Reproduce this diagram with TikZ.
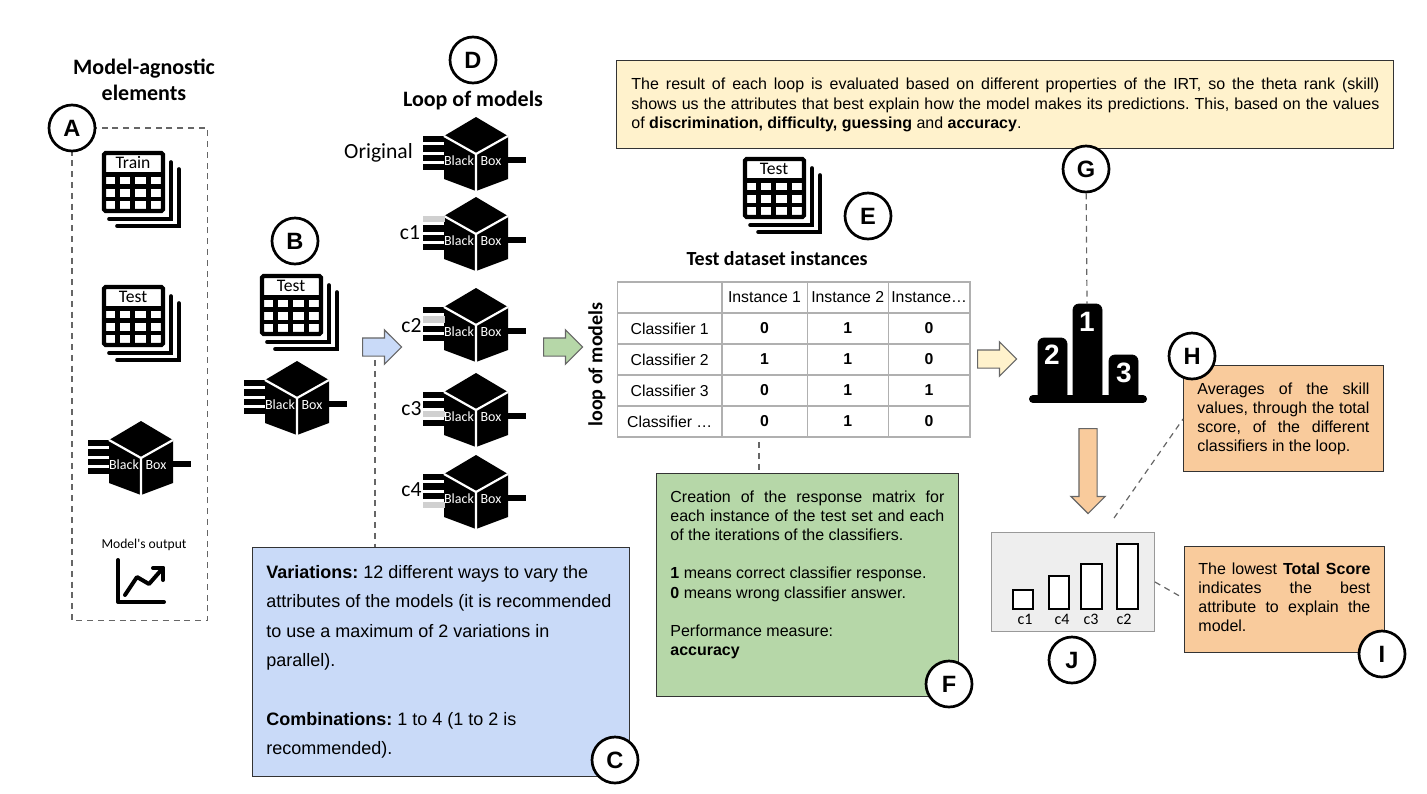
\documentclass[tikz,border=0pt]{standalone}
\usepackage{fontspec}
\setmainfont{Liberation Sans}
\newfontfamily\calibrifont{Carlito}
\usetikzlibrary{arrows.meta, positioning, shapes.arrows, matrix, calc}

\definecolor{varblue}{HTML}{C9DAF8}
\definecolor{matgreen}{HTML}{B6D7A8}
\definecolor{noteyellow}{HTML}{FFF2CC}
\definecolor{noteorange}{HTML}{F9CB9C}
\definecolor{panelgray}{HTML}{EEEEEE}
\definecolor{stubgray}{HTML}{D0D0D0}
\definecolor{tablegray}{HTML}{B0B0B0}

\frenchspacing

\begin{document}
\begin{tikzpicture}[
    x=0.5pt, y=-0.5pt,
    heading/.style = {font=\calibrifont\bfseries\fontsize{11}{12.7}\selectfont, align=center, inner sep=0},
    icontext/.style = {font=\calibrifont\fontsize{8.8}{10}\selectfont, inner sep=0},
    boxtext/.style = {font=\calibrifont\fontsize{7}{8}\selectfont, text=white, inner sep=0},
    looplabel/.style = {font=\calibrifont\fontsize{10.8}{12}\selectfont, inner sep=0},
    letterdot/.style = {circle, draw, fill=white, line width=1.35pt, minimum size=23pt, inner sep=0, font=\bfseries\fontsize{11.8}{12}\selectfont},
    infobox/.style = {rectangle, draw=black!80, line width=.7pt, anchor=north west, inner sep=0},
    infotext/.style = {anchor=north west, inner sep=0, align=justify, font=\fontsize{8}{9.6}\selectfont},
    blockarrow/.style = {single arrow, draw=black!60, line width=.6pt, inner sep=0, text height=8.5pt, text depth=0pt, anchor=tail, minimum height=19.5pt, single arrow head extend=4pt},
    leader/.style = {draw=black!60, line width=.6pt, dash pattern=on 3pt off 2.4pt},
    scorebar/.style = {draw, fill=white, line width=1.4pt},
    podiumstep/.style = {fill=black, rounded corners=3pt},
    podiumnum/.style = {text=white, inner sep=0, font=\bfseries\fontsize{14}{14}\selectfont},
    stub/.style = {line width=3.4pt},
    pics/datatable/.style = {code={
        \draw [line width=1.8pt, line cap=round] (7,68) -- (69,68) -- (69,11);
        \draw [line width=1.8pt, line cap=round] (15,75) -- (77,75) -- (77,18);
        \draw [line width=2.1pt, fill=white, rounded corners=.8pt] (2,2) rectangle (61,60);
        \draw [line width=2.4pt] (2,23.4) -- (61,23.4);
        \draw [line width=2.2pt] (2,35.3) -- (61,35.3) (2,47.8) -- (61,47.8);
        \draw [line width=2.5pt] (15.8,23) -- (15.8,60) (30.9,23) -- (30.9,60) (46.3,23) -- (46.3,60);
        \node [icontext] (-label) at (31,12) {#1};
    }},
    pics/blackbox/.style = {code={
        \draw [stub] (-53,-15) -- (-31,-15) (-53,-5.5) -- (-31,-5.5) (-53,4) -- (-31,4) (-53,13) -- (-31,13);
        \draw [stub] (31,6) -- (50,6);
        \fill (0,-37) -- (32,-18) -- (32,25) -- (0,37) -- (-32,25) -- (-32,-18) -- cycle;
        \draw [white, line width=1.1pt] (-32,-18) -- (0,0) -- (32,-18) (0,0) -- (0,37);
        \node [boxtext] (-black) at (-17,7) {Black};
        \node [boxtext] (-box) at (15,7) {Box};
    }},
    pics/dropstub/.style = {code={
        \draw [stub, stubgray] (-53,#1) -- (-31,#1);
    }}
]
    \useasboundingbox (0,0) rectangle (1427,793);

    \draw [leader] (72,128) rectangle (207.5,620.5);
    \node [heading] (agnostic) at (144,80) {Model-agnostic\\elements};
    \pic (train) at (102,151) {datatable=Train};
    \pic (testa) at (102,285) {datatable=Test};
    \pic (boxa) at (141,458) {blackbox};
    \node [font=\calibrifont\fontsize{6.8}{8}\selectfont, inner sep=0] (output) at (144,545) {Model's output};
    \draw [line width=2pt, line cap=round, line join=round] (118,560) -- (118,602) -- (164,602);
    \draw [line width=2pt, line cap=round, line join=round] (125,595) -- (137,577) -- (149,584) -- (163,568);
    \draw [line width=2pt, line cap=round, line join=round] (153,568) -- (163,568) -- (163,580);
    \node [letterdot] (a) at (72,128) {A};

    \node [letterdot] (b) at (295,241) {B};
    \pic (testb) at (260,274) {datatable=Test};
    \pic (boxb) at (297,398) {blackbox};

    \node [letterdot] (d) at (473,60) {D};
    \node [heading] (loop) at (473,101) {Loop of models};
    \node [looplabel] (original) at (378.5,153) {Original};
    \pic (box0) at (476,154) {blackbox};
    \node [looplabel] (c1) at (410,233) {c1};
    \pic (box1) at (476,234) {blackbox};
    \pic at (476,234) {dropstub=-15};
    \node [looplabel] (c2) at (411.5,326) {c2};
    \pic (box2) at (476,325) {blackbox};
    \pic at (476,325) {dropstub=-5.5};
    \node [looplabel] (c3) at (411.5,409) {c3};
    \pic (box3) at (476,410) {blackbox};
    \pic at (476,410) {dropstub=4};
    \node [looplabel] (c4) at (411.5,490) {c4};
    \pic (box4) at (476,492) {blackbox};
    \pic at (476,492) {dropstub=13};

    \node [blockarrow, fill=varblue] (varyarrow) at (362,347) {};
    \node [blockarrow, fill=matgreen] (looparrow) at (543,347) {};
    \node [blockarrow, fill=noteyellow] (rankarrow) at (977,359) {};
    \node [blockarrow, fill=noteorange, rotate=-90, minimum height=42.5pt] (meanarrow) at (1088,428) {};

    \node [infobox, fill=varblue, minimum width=188.5pt, minimum height=114.5pt] (cbox) at (252,547) {};
    \node [infotext, align=left, font=\fontsize{9}{14.7}\selectfont] (ctext) at ($(cbox.north west)+(14,18)$) {\textbf{Variations:} 12 different ways to vary the\\attributes of the models (it is recommended\\to use a maximum of 2 variations in\\parallel).\\[14.7pt]\textbf{Combinations:} 1 to 4 (1 to 2 is\\recommended).};
    \node [letterdot] (c) at (615,760) {C};
    \coordinate (cstart) at (375,360);
    \draw [leader] (cstart) -- (cstart |- cbox.north);

    \pic (teste) at (743,157) {datatable=Test};
    \node [letterdot] (e) at (868,216) {E};
    \node [heading, font=\calibrifont\bfseries\fontsize{10}{13}\selectfont] (instances) at (777,259) {Test dataset instances};
    \node [heading, rotate=90, font=\calibrifont\bfseries\fontsize{10}{11}\selectfont] (rowtitle) at (597,364.5) {loop of models};

    \matrix [matrix of nodes, nodes in empty cells, anchor=north west, inner sep=0,
        nodes={draw=tablegray, line width=.6pt, anchor=center, minimum height=15.5pt, inner sep=0, font=\fontsize{7.9}{9}\selectfont},
        column sep=-.6pt, row sep=-.6pt,
        column 1/.style={nodes={minimum width=52.2pt}},
        column 2/.style={nodes={minimum width=42.6pt}},
        column 3/.style={nodes={minimum width=40.6pt}},
        column 4/.style={nodes={minimum width=40.8pt}}] (results) at (616.5,281) {
        & Instance 1 & Instance 2 & Instance… \\
        Classifier 1 & \textbf{0} & \textbf{1} & \textbf{0} \\
        Classifier 2 & \textbf{1} & \textbf{1} & \textbf{0} \\
        Classifier 3 & \textbf{0} & \textbf{1} & \textbf{1} \\
        Classifier … & \textbf{0} & \textbf{1} & \textbf{0} \\
    };

    \node [infobox, fill=matgreen, minimum width=151pt, minimum height=111.5pt] (fbox) at (656,473) {};
    \node [infotext, text width=137pt] (ftext) at ($(fbox.north west)+(14,17)$) {Creation of the response matrix for\linebreak each instance of the test set and each\linebreak of the iterations of the classifiers.\\[9.6pt]\textbf{1} means correct classifier response.\\\textbf{0} means wrong classifier answer.\\[9.6pt]Performance measure:\\\textbf{accuracy}};
    \node [letterdot] (f) at (949,684) {F};
    \coordinate (fstart) at (759,442);
    \draw [leader] (fstart) -- (fstart |- fbox.north);

    \node [infobox, fill=noteyellow, minimum width=388.5pt, minimum height=44pt] (gbox) at (616,60) {};
    \node [infotext, text width=374pt, font=\fontsize{8}{9.75}\selectfont] (gtext) at ($(gbox.north west)+(15,18)$) {The result of each loop is evaluated based on different properties of the IRT, so the theta rank (skill)\linebreak shows us the attributes that best explain how the model makes its predictions. This, based on the values\linebreak of \textbf{discrimination, difficulty, guessing} and \textbf{accuracy}.};
    \node [letterdot] (g) at (1086,169) {G};

    \draw [line width=4pt, line cap=round] (1033,399) -- (1143,399);
    \draw [podiumstep] (1038,400) -- (1038,338) -- (1067,338) -- (1067,400) -- cycle;
    \draw [podiumstep] (1073,400) -- (1073,304) -- (1102,304) -- (1102,400) -- cycle;
    \draw [podiumstep] (1109,400) -- (1109,355) -- (1138,355) -- (1138,400) -- cycle;
    \coordinate (podiumtop) at (1087,304);
    \draw [leader] (g) -- (podiumtop);
    \node [podiumnum] (first) at (1087,322) {1};
    \node [podiumnum] (second) at (1052,355) {2};
    \node [podiumnum] (third) at (1124,373) {3};

    \node [infobox, fill=noteorange, minimum width=100pt, minimum height=53pt] (hbox) at (1183,365) {};
    \node [infotext, text width=86pt] (htext) at ($(hbox.north west)+(14,17)$) {Averages of the skill\linebreak values, through the total\linebreak score, of the different\linebreak classifiers in the loop.};
    \node [letterdot] (h) at (1192,356) {H};

    \node [infobox, fill=noteorange, minimum width=100pt, minimum height=53pt] (ibox) at (1184,546) {};
    \node [infotext, text width=86pt] (itext) at ($(ibox.north west)+(14,16)$) {The lowest \textbf{Total Score}\linebreak indicates the best\linebreak attribute to explain the\linebreak model.};
    \node [letterdot] (i) at (1382,654) {I};

    \node [rectangle, draw=black!40, fill=panelgray, line width=.7pt, anchor=north west, minimum width=81.6pt, minimum height=49.5pt, inner sep=0] (jpanel) at (990.7,532) {};
    \draw [scorebar] (1013,590) rectangle (1033,609);
    \draw [scorebar] (1049,576) rectangle (1069,609);
    \draw [scorebar] (1081,564) rectangle (1102,609);
    \draw [scorebar] (1117,544) rectangle (1138,609);
    \node [icontext, font=\calibrifont\fontsize{8}{9}\selectfont] (jc1) at (1025,619) {c1};
    \node [icontext, font=\calibrifont\fontsize{8}{9}\selectfont] (jc4) at (1062,619) {c4};
    \node [icontext, font=\calibrifont\fontsize{8}{9}\selectfont] (jc3) at (1091,619) {c3};
    \node [icontext, font=\calibrifont\fontsize{8}{9}\selectfont] (jc2) at (1124,619) {c2};
    \node [letterdot] (j) at (1072,660) {J};

    \coordinate (hstart) at (1114,518);
    \coordinate (hend) at (1183,419);
    \draw [leader] (hstart) -- (hend);
    \coordinate (jout) at (1155,582);
    \coordinate (iin) at (1183,598);
    \draw [leader] (jout) -- (iin);
\end{tikzpicture}
\end{document}
